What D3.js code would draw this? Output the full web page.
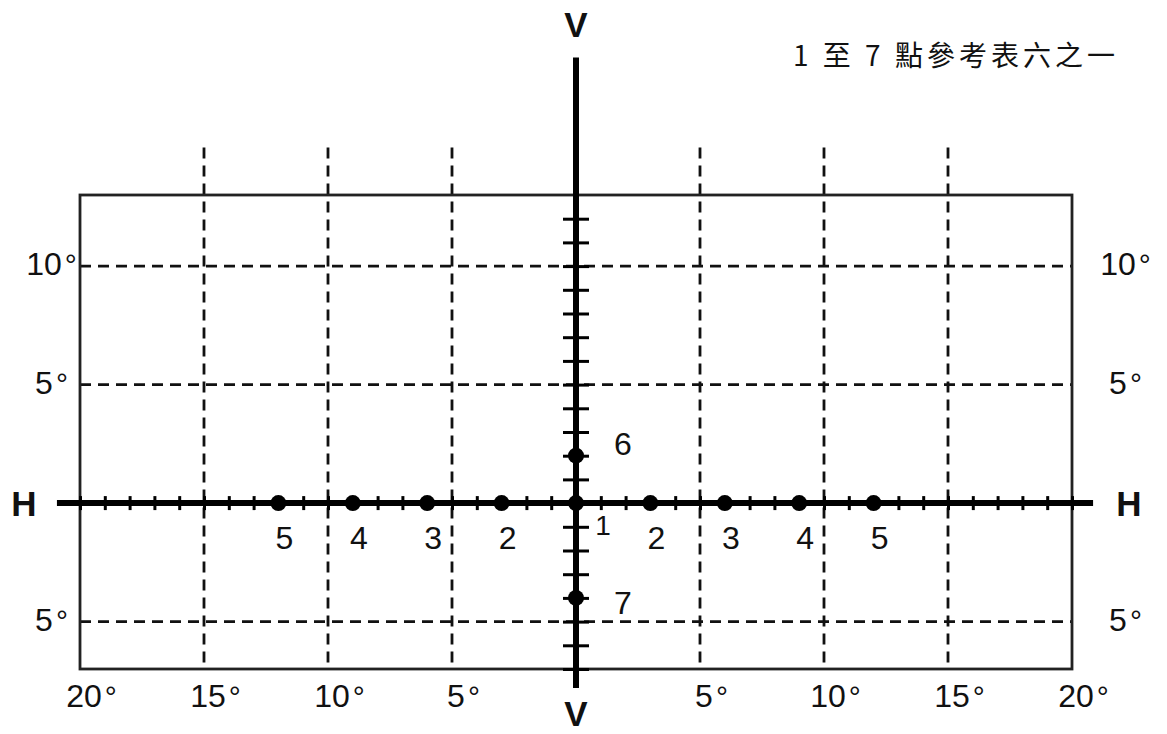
<!DOCTYPE html>
<meta charset="utf-8">
<script src="https://d3js.org/d3.v7.min.js"></script>
<style>
  body { margin: 0; background: #fff; }
  text { font-family: "Liberation Sans", Arial, sans-serif; fill: #111; }
</style>
<div id="chart"></div>
<script>
// grid lines, in degrees
const gridH = [-15, -10, -5, 5, 10, 15];
const gridV = [10, 5, -5];
// degree labels
const bottomLabels = [-20, -15, -10, -5, 5, 10, 15, 20];
const sideLabels = [10, 5, -5];
// the 7 reference points (H, V in degrees)
const pointNames = ["5", "4", "3", "2", "1", "2", "3", "4", "5", "6", "7"];
const pointH = [-12, -9, -6, -3, 0, 3, 6, 9, 12, 0, 0];
const pointV = [0, 0, 0, 0, 0, 0, 0, 0, 0, 2, -4];
const title = "1 至 7 點參考表六之一";

var width = 1167, height = 734;

var x = d3.scaleLinear().domain([-20, 20]).range([80, 1072]);
var y = d3.scaleLinear().domain([-7, 13]).range([669, 195]);

var svg = d3.select("#chart").append("svg")
    .attr("width", width)
    .attr("height", height);

// dashed grid: vertical lines reach up to 15 deg, horizontal ones stay in the box
svg.selectAll(".gv")
    .data(gridH)
    .enter().append("line")
    .attr("x1", d => x(d)).attr("x2", d => x(d))
    .attr("y1", y(15)).attr("y2", y(-7))
    .attr("stroke", "#111").attr("stroke-width", 2.8)
    .attr("stroke-dasharray", "11,7");

svg.selectAll(".gh")
    .data(gridV)
    .enter().append("line")
    .attr("x1", x(-20)).attr("x2", x(20))
    .attr("y1", d => y(d)).attr("y2", d => y(d))
    .attr("stroke", "#111").attr("stroke-width", 2.8)
    .attr("stroke-dasharray", "11,7");

// frame
svg.append("rect")
    .attr("x", x(-20)).attr("y", y(13))
    .attr("width", x(20) - x(-20))
    .attr("height", y(-7) - y(13))
    .attr("fill", "none")
    .attr("stroke", "#222").attr("stroke-width", 2.8);

// H axis
svg.append("line")
    .attr("x1", x(-20.93)).attr("x2", x(20.85))
    .attr("y1", y(0)).attr("y2", y(0))
    .attr("stroke", "#000").attr("stroke-width", 6);

var hTicks = svg.append("g")
    .attr("transform", "translate(0," + (y(0) - 7) + ")")
    .call(d3.axisBottom(x).tickValues(d3.range(-20, 21)).tickSize(14).tickFormat(""));
hTicks.select(".domain").remove();
hTicks.selectAll("line").attr("stroke", "#000").attr("stroke-width", 3);

// V axis
svg.append("line")
    .attr("x1", x(0)).attr("x2", x(0))
    .attr("y1", y(18.8)).attr("y2", y(-7.8))
    .attr("stroke", "#000").attr("stroke-width", 6);

var vTicks = svg.append("g")
    .attr("transform", "translate(" + (x(0) - 13) + ",0)")
    .call(d3.axisRight(y).tickValues(d3.range(-7, 13)).tickSize(26).tickFormat(""));
vTicks.select(".domain").remove();
vTicks.selectAll("line").attr("stroke", "#000").attr("stroke-width", 3);

// axis names
var names = [
  { t: "H", x: 24, y: y(0) + 13 },
  { t: "H", x: 1129, y: y(0) + 13 },
  { t: "V", x: x(0), y: 37 },
  { t: "V", x: x(0), y: 726 }
];
svg.selectAll(".axname")
    .data(names)
    .enter().append("text")
    .attr("x", d => d.x).attr("y", d => d.y)
    .attr("text-anchor", "middle")
    .attr("font-size", 35).attr("font-weight", "bold")
    .text(d => d.t);

// number centred on a position, with the degree sign hanging to its right
function degLabel(px, py, num) {
  var t = svg.append("text")
      .attr("x", px).attr("y", py)
      .attr("text-anchor", "middle")
      .attr("font-size", 32)
      .text(num);
  var w = t.node().getComputedTextLength();
  svg.append("text")
      .attr("x", px + w / 2 + 3).attr("y", py)
      .attr("font-size", 30)
      .text("°");
}

bottomLabels.forEach(d => degLabel(x(d) + 4, 707, Math.abs(d)));
sideLabels.forEach(d => {
  degLabel(x(-20) - 36, y(d) + 9, Math.abs(d));
  degLabel(x(20) + 46, y(d) + 9, Math.abs(d));
});

// points
var pts = pointNames.map((n, i) => ({ name: n, h: pointH[i], v: pointV[i] }));

svg.selectAll(".pt")
    .data(pts)
    .enter().append("circle")
    .attr("cx", d => x(d.h))
    .attr("cy", d => y(d.v))
    .attr("r", 8)
    .attr("fill", "#000");

svg.selectAll(".ptlabel")
    .data(pts)
    .enter().append("text")
    .attr("text-anchor", "middle")
    .attr("font-size", d => (d.h === 0 && d.v === 0) ? 28 : 32)
    .attr("x", d => {
      if (d.v !== 0) return x(d.h) + 47;
      if (d.h === 0) return x(d.h) + 27;
      return x(d.h) + 6;
    })
    .attr("y", d => {
      if (d.v > 0) return y(d.v) - 1;
      if (d.v < 0) return y(d.v) + 16;
      if (d.h === 0) return y(d.v) + 32;
      return y(d.v) + 46;
    })
    .text(d => d.name);

// title
svg.append("text")
    .attr("x", 793).attr("y", 66)
    .style("font-family", '"Noto Sans CJK TC", "Noto Sans CJK SC", sans-serif')
    .attr("font-size", 28)
    .attr("letter-spacing", 4)
    .text(title);
</script>
